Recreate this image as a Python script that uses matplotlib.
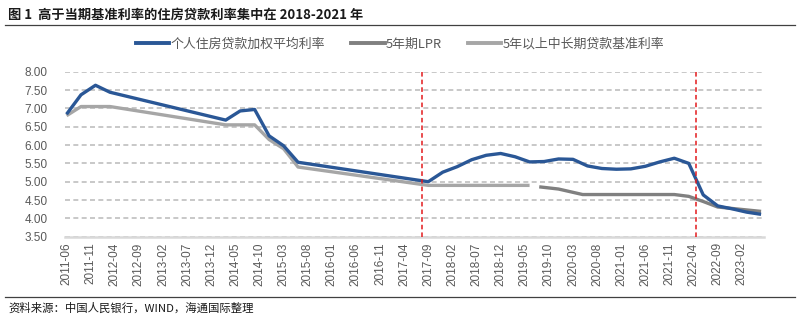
import numpy as np
import matplotlib
matplotlib.use("Agg")
import matplotlib.pyplot as plt
from matplotlib.lines import Line2D

plt.rcParams['font.family'] = ['Liberation Sans', 'Noto Sans CJK SC', 'DejaVu Sans']

# DATOS
START = (2011, 6)

blue_dates = ["2011-06", "2011-09", "2011-12", "2012-03", "2014-03", "2014-06", "2014-09",
              "2014-12", "2015-03", "2015-06", "2017-09", "2017-12", "2018-03", "2018-06",
              "2018-09", "2018-12", "2019-03", "2019-06", "2019-09", "2019-12", "2020-03",
              "2020-06", "2020-09", "2020-12", "2021-03", "2021-06", "2021-09", "2021-12",
              "2022-03", "2022-06", "2022-09", "2022-12", "2023-03", "2023-06"]
blue_vals = [6.84, 7.37, 7.63, 7.44, 6.68, 6.93, 6.97,
             6.25, 5.98, 5.53, 5.00, 5.26, 5.41, 5.60,
             5.72, 5.77, 5.68, 5.54, 5.55, 5.62, 5.61,
             5.43, 5.36, 5.34, 5.35, 5.42, 5.54, 5.64,
             5.50, 4.64, 4.34, 4.26, 4.17, 4.11]

lpr_dates = ["2019-08", "2019-12", "2020-05", "2021-12", "2022-03", "2022-06",
             "2022-09", "2022-12", "2023-03", "2023-06"]
lpr_vals = [4.86, 4.80, 4.65, 4.65, 4.60, 4.46, 4.31, 4.27, 4.23, 4.19]

bench_dates = ["2011-06", "2011-09", "2012-03", "2014-03", "2014-09", "2014-12",
               "2015-03", "2015-06", "2017-09", "2019-06"]
bench_vals = [6.80, 7.05, 7.05, 6.55, 6.55, 6.15, 5.90, 5.40, 4.90, 4.90]

tick_labels = ["2011-06", "2011-11", "2012-04", "2012-09", "2013-02", "2013-07", "2013-12",
               "2014-05", "2014-10", "2015-03", "2015-08", "2016-01", "2016-06", "2016-11",
               "2017-04", "2017-09", "2018-02", "2018-07", "2018-12", "2019-05", "2019-10",
               "2020-03", "2020-08", "2021-01", "2021-06", "2021-11", "2022-04", "2022-09",
               "2023-02"]

red_lines = ["2017-08", "2022-05"]   # líneas verticales
red_offset = [-0.3, -0.4]

names = ["个人住房贷款加权平均利率", "5年期LPR", "5年以上中长期贷款基准利率"]
colors = ["#2A5796", "#808080", "#A6A6A6"]


def mes(s):  # meses desde 2011-06
    y, m = s.split("-")
    return (int(y) - START[0]) * 12 + int(m) - START[1]


fig = plt.figure(figsize=(8, 3.22), dpi=100)
ax = fig.add_axes([64.6 / 800, 1 - 236.7 / 322, (764 - 64.6) / 800, 165 / 322])

ax.plot([mes(d) for d in bench_dates], bench_vals, color=colors[2], lw=2.4, solid_capstyle='butt')
ax.plot([mes(d) for d in lpr_dates], lpr_vals, color=colors[1], lw=2.4, solid_capstyle='butt')
ax.plot([mes(d) for d in blue_dates], blue_vals, color=colors[0], lw=2.4, solid_capstyle='butt')

for d, off in zip(red_lines, red_offset):
    ax.axvline(mes(d) + off, color="#E31A1C", lw=1.1, ls=(0, (3, 2)), zorder=5)

ax.set_xlim(-0.4, 144.6)
ax.set_ylim(3.5, 8.0)
ax.set_yticks(np.arange(3.5, 8.01, 0.5))
ax.set_yticklabels([f"{v:.2f}" for v in np.arange(3.5, 8.01, 0.5)])
ax.set_xticks([mes(t) for t in tick_labels])
ax.set_xticklabels(tick_labels, rotation=90)
ax.tick_params(axis='both', length=0, labelsize=8.5, labelcolor="#595959")
ax.tick_params(axis='x', pad=4)
ax.tick_params(axis='y', pad=12)

ax.yaxis.grid(True, color="#BFBFBF", lw=1.2, ls=(0, (3, 2)))
ax.set_axisbelow(True)
for s in ["top", "right", "left"]:
    ax.spines[s].set_visible(False)
ax.spines["bottom"].set_color("#D9D9D9")
ax.spines["bottom"].set_linewidth(1.8)

# LEYENDA
handles = [Line2D([], [], color=c, lw=2.8) for c in colors]
leg = fig.legend(handles, names, loc="center", bbox_to_anchor=(0.5, 1 - 44 / 322), ncol=3,
                 frameon=False, handlelength=2.6, handletextpad=0.1, columnspacing=2.0,
                 prop={'family': ['Noto Sans CJK SC', 'DejaVu Sans'], 'size': 9.3})
for t in leg.get_texts():
    t.set_color("#595959")

# TÍTULO Y FUENTE
fig.text(8 / 800, 1 - 15 / 322, "图 1  高于当期基准利率的住房贷款利率集中在 2018-2021 年",
         fontsize=9.5, fontweight='bold', va='center', ha='left',
         family=['Noto Sans CJK SC', 'DejaVu Sans'], color="#1a1a1a")
fig.add_artist(Line2D([5 / 800, 795 / 800], [1 - 25 / 322] * 2, color="#404040", lw=0.9))
fig.add_artist(Line2D([5 / 800, 795 / 800], [1 - 297 / 322] * 2, color="#404040", lw=0.9))
fig.text(8 / 800, 1 - 308 / 322, "资料来源：中国人民银行，WIND，海通国际整理",
         fontsize=8.2, va='center', ha='left',
         family=['Noto Sans CJK SC', 'DejaVu Sans'], color="#1a1a1a")

fig.savefig("out.png", dpi=100)
